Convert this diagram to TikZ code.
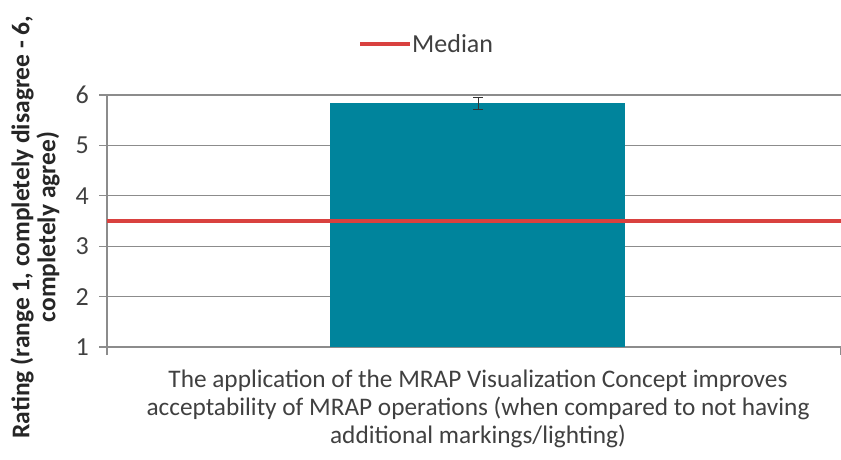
\documentclass[tikz,border=0pt]{standalone}
\usepackage{fontspec}
\setmainfont{Carlito}
\usetikzlibrary{positioning}
\definecolor{bartealcol}{HTML}{00849C}
\definecolor{mediancol}{HTML}{D9413F}
\definecolor{gridcol}{HTML}{8C8C8C}
\definecolor{txtcol}{HTML}{404040}
\tikzset{
	grid line/.style={gridcol, line width=1.3pt},
	tick label/.style={left, text=txtcol, font=\fontsize{26}{26}\selectfont, inner sep=0pt},
}
\begin{document}
\begin{tikzpicture}[x=1pt,y=1pt]
		\useasboundingbox (0,0) rectangle (841,459);
		% legend
		\coordinate (legL) at (360,415);
		\coordinate (legR) at (410,415);
		\draw[mediancol, line width=3.5pt] (legL) -- (legR);
		\node[right=2pt of legR, inner sep=0pt, text=txtcol, font=\fontsize{26}{26}\selectfont] (legtxt) {Median};
		% axis title
		\node[rotate=90, align=center, font=\bfseries\fontsize{25.5}{26}\selectfont, text=black!85] (ytitle) at (35,232)
			{Rating (range 1, completely disagree - 6,\\ completely agree)};
		\begin{scope}[yshift=61.6pt, y=50.4pt]
			% grid and tick labels
			\foreach \v in {1,...,6} {
				\draw[grid line] (99,\v) -- (841,\v);
				\node[tick label] (tick\v) at (89,\v) {\v};
			}
			\draw[grid line] (107,1) -- (107,0.84) coordinate (axbot);
			\draw[grid line] (axbot) -- (107,6);
			\draw[grid line] (841,1) -- (841,0.84);
			% bar and error bar
			\fill[bartealcol] (330,1) rectangle (625,5.84);
			\coordinate (errlo) at (478,5.72);
			\coordinate (errhi) at (478,5.96);
			\draw[black!80, line width=1pt] (errlo) -- (errhi);
			\draw[black!80, line width=1pt] ([xshift=-5pt]errlo) -- ([xshift=5pt]errlo);
			\draw[black!80, line width=1pt] ([xshift=-5pt]errhi) -- ([xshift=5pt]errhi);
			% median line
			\draw[mediancol, line width=3.5pt] (107,3.5) -- (841,3.5);
			% category label
			\node[align=center, text=txtcol, font=\fontsize{25.3}{28}\selectfont, anchor=north] (catlbl) at (478,0.62)
				{The application of the MRAP Visualization Concept improves\\
				 acceptability of MRAP operations (when compared to not having\\
				 additional markings/lighting)};
		\end{scope}
	\end{tikzpicture}
\end{document}
